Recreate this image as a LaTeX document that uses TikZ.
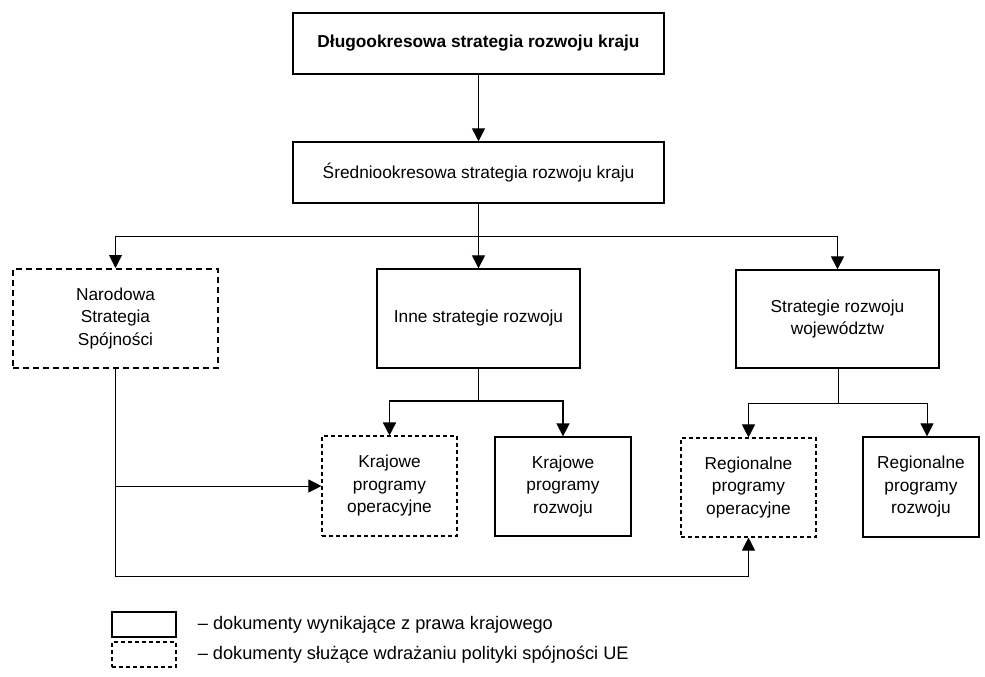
\documentclass[tikz,border=0pt]{standalone}
\usepackage{fontspec}
\setmainfont{Liberation Sans}
\usetikzlibrary{positioning,arrows.meta}

\begin{document}
\begin{tikzpicture}[x=1pt,y=-1pt,
box/.style={draw,line width=1.3pt,rectangle,inner sep=0pt,align=center,
    font=\fontsize{17.3}{22.5}\selectfont},
nssbox/.style={box,dash pattern=on 6pt off 4pt,line width=2pt},
eubox/.style={box,dash pattern=on 4pt off 3pt,line width=1.1pt},
arr/.style={line width=1pt,-{Triangle[length=13pt,width=13pt]}},
legtext/.style={inner sep=0pt,font=\fontsize{18.2}{22}\selectfont}]
\useasboundingbox (0,0) rectangle (985,677);

\node (dlugo) [box,minimum width=371pt,minimum height=61pt,
    font=\fontsize{17.3}{22.5}\selectfont\bfseries] at (478.5,43.5)
    {Długookresowa strategia rozwoju kraju};
\node (sredni) [box,minimum width=371pt,minimum height=61pt] at (478.5,172.5)
    {Średniookresowa strategia rozwoju kraju};

\node (nss) [nssbox,minimum width=205pt,minimum height=99pt] at (115.5,318.5)
    {Narodowa\\Strategia\\Spójności};
\node (inne) [box,minimum width=203pt,minimum height=99pt] at (478.5,318.5)
    {Inne strategie rozwoju};
\node (woj) [box,minimum width=203pt,minimum height=98pt] at (837.5,319)
    {Strategie rozwoju\\województw};

\node (kpo) [eubox,minimum width=135pt,minimum height=100pt] at (389.5,486)
    {Krajowe\\programy\\operacyjne};
\node (kpr) [box,minimum width=136pt,minimum height=99pt] at (563,486.5)
    {Krajowe\\programy\\rozwoju};
\node (rpo) [eubox,minimum width=135pt,minimum height=99pt] at (748.5,487.5)
    {Regionalne\\programy\\operacyjne};
\node (rpr) [box,minimum width=116pt,minimum height=100pt] at (921,487)
    {Regionalne\\programy\\rozwoju};

\coordinate (bus) at (478.5,236);
\coordinate (innebus) at (478.5,401);
\coordinate (wojbus) at (838.5,403);
\coordinate (petla) at (115,576);

\draw[arr] (dlugo) -- (sredni);
\draw[line width=1pt] (sredni) -- (bus);
\draw[arr] (bus) -| (nss.north);
\draw[arr] (bus) -- (inne);
\draw[arr] (bus) -| (woj.north);

\draw[line width=1pt] (inne) -- (innebus);
\draw[arr,line width=1.6pt] (innebus) -| (kpo.north);
\draw[arr,line width=1.6pt] (innebus) -| (kpr.north);

\draw[line width=1pt] (woj.south -| wojbus) -- (wojbus);
\draw[arr] (wojbus) -| (rpo.north);
\draw[arr] (wojbus) -| ([xshift=6pt]rpr.north);

\draw[arr] (nss.south -| petla) -- (petla) -| (rpo.south);
\draw[arr] (kpo.west -| petla) -- (kpo.west);

\node (legkraj) [box,minimum width=64pt,minimum height=25pt] at (144,624.5) {};
\node (legue) [eubox,minimum width=64pt,minimum height=25pt] at (144,654.5) {};
\node [legtext,right=21pt of legkraj] {– dokumenty wynikające z prawa krajowego};
\node [legtext,right=21pt of legue] {– dokumenty służące wdrażaniu polityki spójności UE};
\end{tikzpicture}
\end{document}
